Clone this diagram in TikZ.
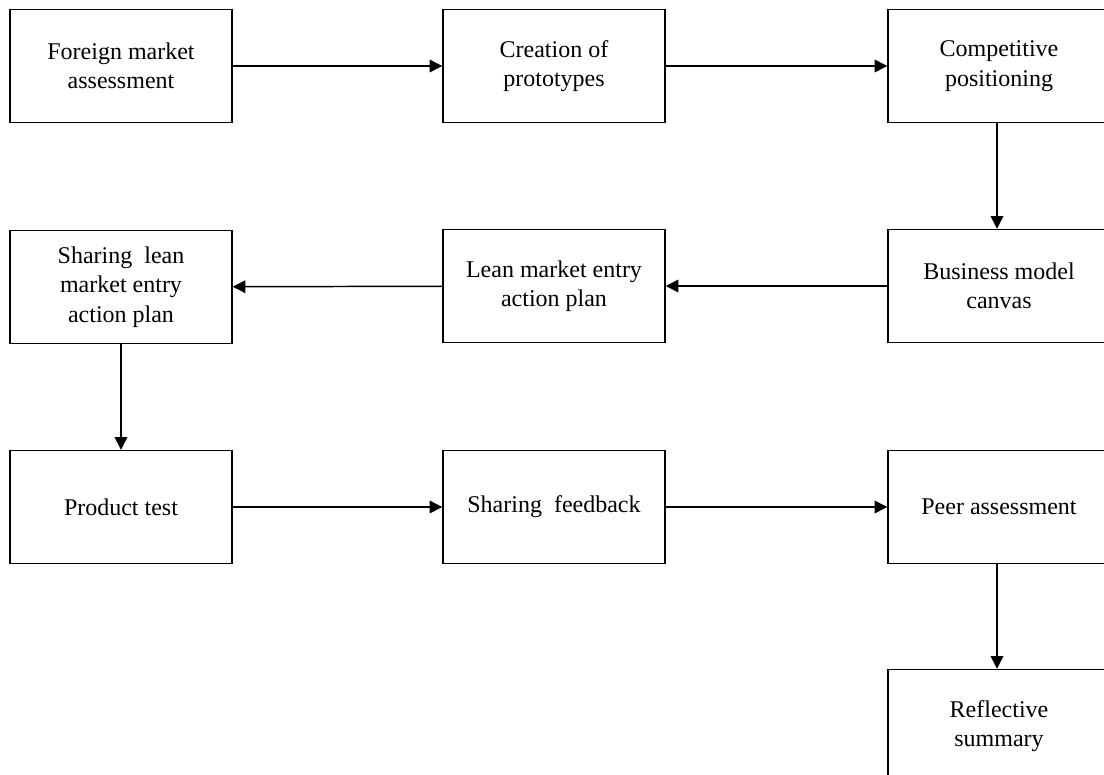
\documentclass[tikz,border=0pt]{standalone}
\usepackage{fontspec}
\setmainfont{Liberation Serif}
\usetikzlibrary{arrows.meta}
\begin{document}
\begin{tikzpicture}[x=0.75pt,y=-0.75pt,
  box/.style={draw, line width=1.1pt, rectangle, minimum width=222*0.75pt, minimum height=113*0.75pt, align=center, font=\fontsize{18}{22}\selectfont, inner sep=2pt},
  conn/.style={line width=1.1pt, -{Triangle[length=9.5pt,width=9.5pt]}}]
\useasboundingbox (0,0) rectangle (1104,775);
\node[box] (b1) at (121,66) {Foreign market\\assessment};
\node[box] (b2) at (554,66) {Creation of\\prototypes};
\node[box] (b3) at (999,66) {Competitive\\positioning};
\node[box] (b4) at (121,287) {Sharing\ \ lean\\market entry\\action plan};
\node[box] (b5) at (554,286) {Lean market entry\\action plan};
\node[box] (b6) at (999,286) {Business model\\canvas};
\node[box] (b7) at (121,507) {Product test};
\node[box] (b8) at (554,507) {Sharing\ \ feedback};
\node[box] (b9) at (999,507) {Peer assessment};
\node[box] (b10) at (999,726) {Reflective\\summary};
\draw[conn] (b1) -- (b2);
\draw[conn] (b2) -- (b3);
\draw[conn] (b3.south -| 997,0) -- (b6.north -| 997,0);
\draw[conn] (b6) -- (b5);
\draw[conn] (b5) -- (b4);
\draw[conn] (b4) -- (b7);
\draw[conn] (b7) -- (b8);
\draw[conn] (b8) -- (b9);
\draw[conn] (b9.south -| 997,0) -- (b10.north -| 997,0);
\end{tikzpicture}
\end{document}
